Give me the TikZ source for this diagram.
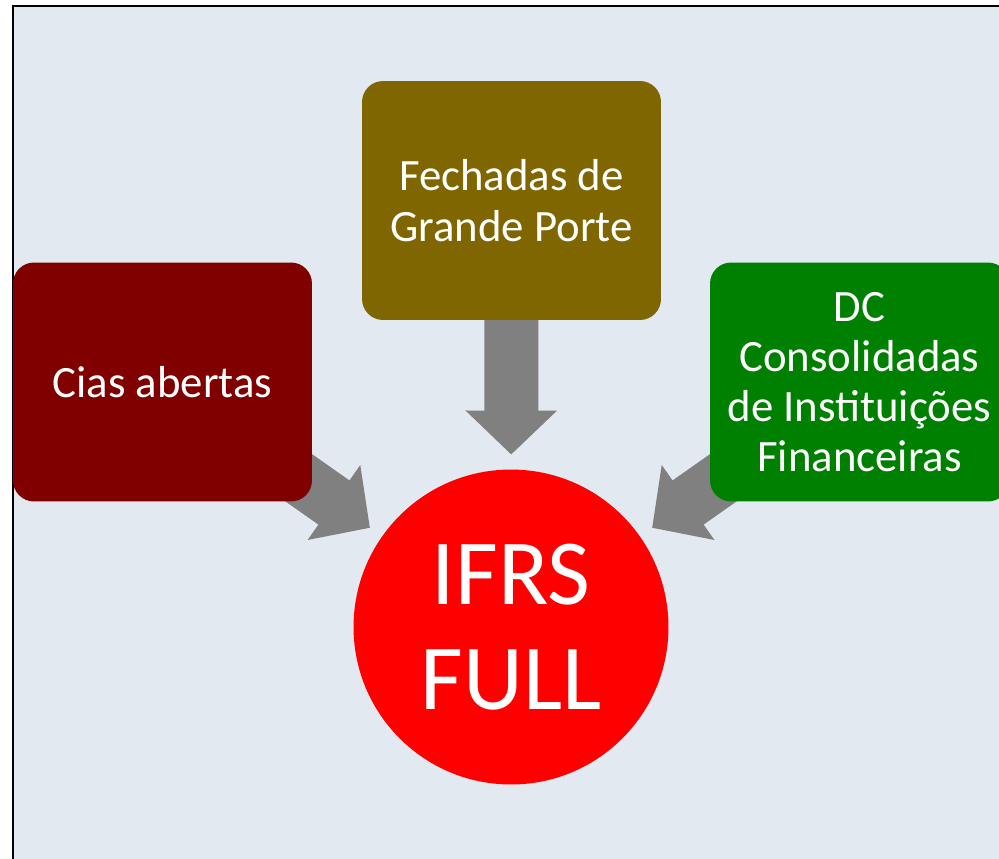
\documentclass[tikz,border=0pt]{standalone}
\usepackage{fontspec}
\setmainfont{Carlito}
\usetikzlibrary{arrows.meta,calc}
\definecolor{bgblue}{HTML}{E2E9F0}
\definecolor{ciasred}{HTML}{800000}
\definecolor{olivebox}{HTML}{7F6600}
\definecolor{greenbox}{HTML}{008000}
\definecolor{arrowgray}{HTML}{808080}
\pgfdeclarelayer{bglayer}
\pgfdeclarelayer{arrlayer}
\pgfsetlayers{bglayer,arrlayer,main}
\tikzset{
  srcbox/.style={rectangle, rounded corners=0.42cm, minimum width=5.98cm,
    minimum height=4.78cm, text=white, align=center, inner sep=0pt,
    font=\fontsize{25.5}{28.6}\selectfont},
  bigarrow/.style={draw=arrowgray, line width=1.08cm,
    -{Triangle[length=0.88cm,width=1.78cm]}, arrowgray}
}
\begin{document}
\begin{tikzpicture}[x=0.02cm,y=-0.02cm]
\useasboundingbox (0,0) rectangle (999,858);
\clip (0,0) rectangle (999,858);
\begin{pgfonlayer}{bglayer}
  \fill[bgblue] (13,6) rectangle (1005,865);
  \draw[black, line width=1.2pt] (13,865) -- (13,6) -- (1005,6);
\end{pgfonlayer}

\node[srcbox, fill=ciasred] (cias) at (162.5,382) {Cias abertas};
\node[srcbox, fill=olivebox] (fech) at (511.5,200.5) {Fechadas de\\Grande Porte};
\node[srcbox, fill=greenbox] (dc) at (859.5,382) {DC\\Consolidadas\\de Instituições\\Financeiras};
\node[circle, fill=red, minimum size=6.3cm, inner sep=0pt, text=white,
      align=center, font=\fontsize{53}{60}\selectfont] (ifrs) at (511,627) {IFRS\\FULL};

\begin{pgfonlayer}{arrlayer}
  \draw[bigarrow] (cias.center) -- ($(ifrs.center)!3.45cm!(cias.center)$);
  \draw[bigarrow] (fech.center) -- ($(ifrs.center)!3.45cm!(fech.center)$);
  \draw[bigarrow] (dc.center) -- ($(ifrs.center)!3.45cm!(dc.center)$);
\end{pgfonlayer}
\end{tikzpicture}
\end{document}
